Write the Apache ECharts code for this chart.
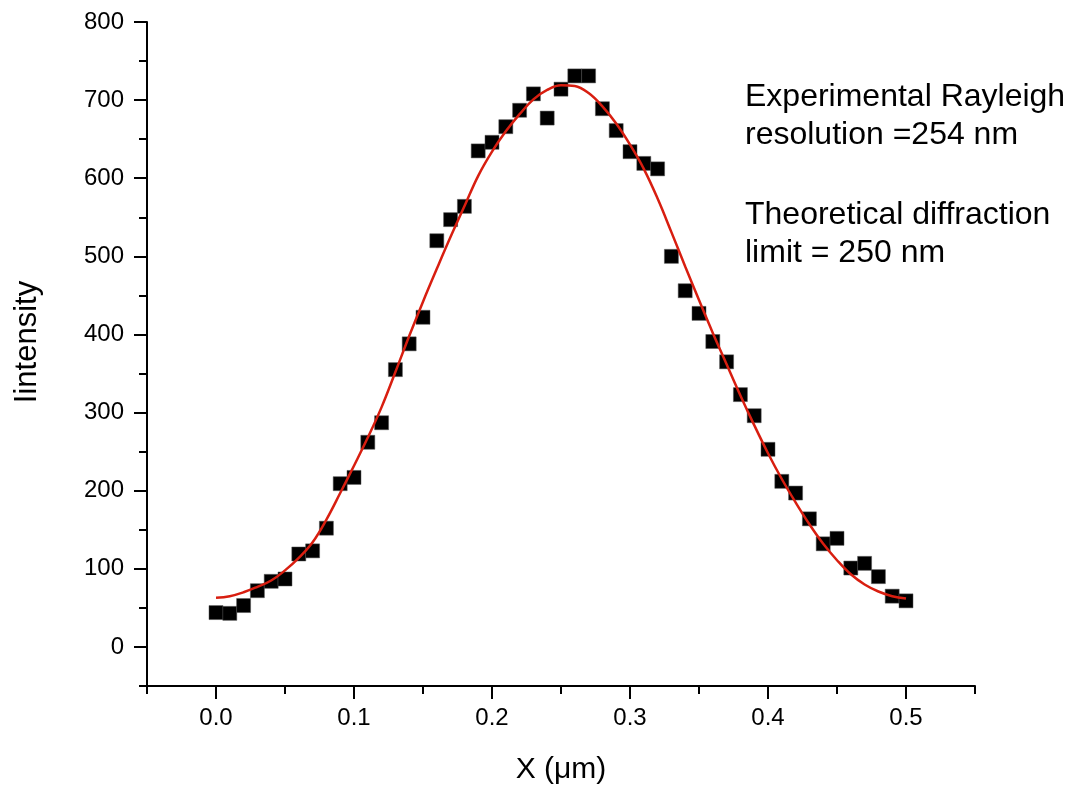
<!DOCTYPE html>
<html>
<head>
<meta charset="utf-8">
<script src="https://cdn.jsdelivr.net/npm/echarts@6/dist/echarts.min.js"></script>
<style>
html,body{margin:0;padding:0;background:#fff;}
#chart{width:1074px;height:790px;}
</style>
</head>
<body>
<div id="chart"></div>
<script>
// ---- data ----
const xValues = [0.00,0.01,0.02,0.03,0.04,0.05,0.06,0.07,0.08,0.09,0.10,0.11,0.12,0.13,0.14,0.15,0.16,0.17,0.18,0.19,0.20,0.21,0.22,0.23,0.24,0.25,0.26,0.27,0.28,0.29,0.30,0.31,0.32,0.33,0.34,0.35,0.36,0.37,0.38,0.39,0.40,0.41,0.42,0.43,0.44,0.45,0.46,0.47,0.48,0.49,0.50];
const intensity = [44,43,53,72,84,87,119,123,152,209,217,262,287,355,388,422,520,547,564,635,646,666,687,708,677,714,731,731,689,661,634,619,612,500,456,427,391,365,323,296,253,212,197,164,132,139,101,107,90,65,59];
const fitValues = [63,65,70,77,85,98,114,134,163,197,232,268,307,352,398,442,484,525,564,603,634,660,682,701,713,719,718,709,692,670,643,612,574,531,487,444,402,362,322,284,248,215,185,157,132,111,93,80,71,65,62];
const xMajorTicks = [0.0,0.1,0.2,0.3,0.4,0.5];
const xMinorTicks = [-0.05,0.05,0.15,0.25,0.35,0.45,0.55];
const yMajorTicks = [0,100,200,300,400,500,600,700,800];
const yMinorTicks = [-50,50,150,250,350,450,550,650,750];
const xTitle = 'X (\u03bcm)';
const yTitle = 'Iintensity';
const noteLines = ['Experimental Rayleigh','resolution =254 nm','Theoretical diffraction','limit = 250 nm'];

const FONT = '"Liberation Sans", Arial, Helvetica, sans-serif';
const chart = echarts.init(document.getElementById('chart'), null, {renderer:'canvas'});

const scatterData = xValues.map((x,i)=>[x,intensity[i]]);
const fitData = xValues.map((x,i)=>[x,fitValues[i]]);

const commonX = {type:'value', min:-0.05, max:0.55, interval:0.05, position:'bottom', splitLine:{show:false}};
const commonY = {type:'value', min:-50, max:800, interval:50, position:'left', splitLine:{show:false}};
const noteY = [97, 135, 215, 253];

chart.setOption({
  animation:false,
  backgroundColor:'#ffffff',
  grid:{left:147, right:99, top:22, bottom:104, containLabel:false},
  xAxis:[
    Object.assign({}, commonX, {
      name:xTitle, nameLocation:'middle', nameGap:69,
      nameTextStyle:{fontFamily:FONT, fontSize:30, color:'#000'},
      axisLine:{show:true, onZero:false, lineStyle:{color:'#000', width:2}},
      axisTick:{show:true, inside:false, length:13, lineStyle:{color:'#000', width:2}, customValues:xMajorTicks},
      axisLabel:{show:true, margin:20, fontFamily:FONT, fontSize:24, color:'#000', customValues:xMajorTicks,
        formatter:v=>Number(v).toFixed(1)}
    }),
    Object.assign({}, commonX, {
      axisLine:{show:false, onZero:false},
      axisTick:{show:true, inside:false, length:8, lineStyle:{color:'#000', width:2}, customValues:xMinorTicks},
      axisLabel:{show:false}
    })
  ],
  yAxis:[
    Object.assign({}, commonY, {
      name:yTitle, nameLocation:'middle', nameGap:104, nameRotate:90,
      nameTextStyle:{fontFamily:FONT, fontSize:31, color:'#000', padding:[0,0,0,24]},
      axisLine:{show:true, onZero:false, lineStyle:{color:'#000', width:2}},
      axisTick:{show:true, inside:false, length:13, lineStyle:{color:'#000', width:2}, customValues:yMajorTicks},
      axisLabel:{show:true, margin:23, fontFamily:FONT, fontSize:24, color:'#000', customValues:yMajorTicks}
    }),
    Object.assign({}, commonY, {
      axisLine:{show:false, onZero:false},
      axisTick:{show:true, inside:false, length:8, lineStyle:{color:'#000', width:2}, customValues:yMinorTicks},
      axisLabel:{show:false}
    })
  ],
  series:[
    {
      type:'scatter', xAxisIndex:0, yAxisIndex:0, data:scatterData,
      symbol:'rect', symbolSize:14,
      itemStyle:{color:'#000', borderColor:'#555', borderWidth:0.5, opacity:1},
      z:2
    },
    {
      type:'line', xAxisIndex:0, yAxisIndex:0, data:fitData,
      smooth:0.4, showSymbol:false, symbol:'none',
      lineStyle:{color:'#d81e10', width:2.5},
      z:3
    }
  ],
  graphic:noteLines.map((t,i)=>({
    type:'text', x:745, y:noteY[i],
    style:{text:t, fontFamily:FONT, fontSize:32, fill:'#000', verticalAlign:'middle', align:'left'}
  }))
});
</script>
</body>
</html>
